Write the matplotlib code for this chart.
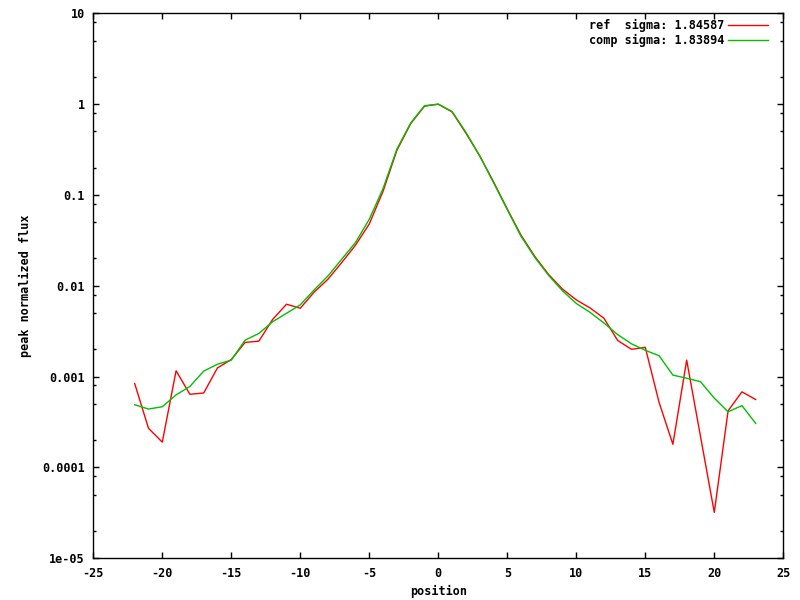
import numpy as np
import matplotlib
matplotlib.use('Agg')
import matplotlib.pyplot as plt
from matplotlib.ticker import LogLocator, FuncFormatter, MultipleLocator, NullFormatter

# profile positions
position = np.arange(-22, 24)

# reference profile (peak normalised)
ref_flux = [8.4e-4, 2.7e-4, 1.9e-4, 1.16e-3, 6.4e-4, 6.6e-4, 1.25e-3, 1.54e-3,
            2.38e-3, 2.46e-3, 4.27e-3, 6.27e-3, 5.66e-3, 8.5e-3, 0.0118, 0.018,
            0.028, 0.048, 0.11, 0.31, 0.61, 0.95, 1.0, 0.82, 0.48, 0.27, 0.14,
            0.07, 0.036, 0.021, 0.0133, 0.0092, 0.0070, 0.0057, 0.0044, 0.0025,
            0.0020, 0.0021, 5.2e-4, 1.8e-4, 1.52e-3, 2.2e-4, 3.2e-5, 4.2e-4,
            6.8e-4, 5.6e-4]

# computed profile
comp_flux = [4.9e-4, 4.4e-4, 4.66e-4, 6.3e-4, 7.8e-4, 1.15e-3, 1.37e-3, 1.52e-3,
             2.52e-3, 2.99e-3, 4.03e-3, 4.98e-3, 6.17e-3, 9.0e-3, 0.0128, 0.0196,
             0.030, 0.054, 0.118, 0.32, 0.62, 0.96, 1.0, 0.83, 0.49, 0.27, 0.137,
             0.069, 0.035, 0.0205, 0.0130, 0.0088, 0.0064, 0.0051, 0.0039, 0.0029,
             0.0023, 0.00195, 0.0017, 1.04e-3, 9.6e-4, 8.8e-4, 5.8e-4, 4.1e-4,
             4.8e-4, 3.06e-4]

ref_label = 'ref  sigma: 1.84587'
comp_label = 'comp sigma: 1.83894'

FONT = dict(family='DejaVu Sans Mono', weight='bold', size=8.5)
plt.rcParams['font.family'] = 'DejaVu Sans Mono'
plt.rcParams['font.weight'] = 'bold'
plt.rcParams['font.size'] = 8.5

fig = plt.figure(figsize=(8, 6), dpi=100)
ax = fig.add_axes([0.1166, 0.0695, 0.8625, 0.9083])

ax.plot(position, ref_flux, color='#ff0000', lw=1.0, label=ref_label)
ax.plot(position, comp_flux, color='#00c000', lw=1.0, label=comp_label)

ax.set_yscale('log')
ax.set_xlim(-25, 25)
ax.set_ylim(1e-5, 10)

ax.xaxis.set_major_locator(MultipleLocator(5))
ax.xaxis.set_major_formatter(FuncFormatter(lambda v, p: '%g' % v))
ax.yaxis.set_major_locator(LogLocator(base=10, numticks=20))
ax.yaxis.set_minor_locator(LogLocator(base=10, subs=[2, 5, 8], numticks=20))
ax.yaxis.set_major_formatter(FuncFormatter(lambda v, p: '%g' % v))
ax.yaxis.set_minor_formatter(NullFormatter())

ax.tick_params(which='both', direction='in', top=True, right=True,
               color='black', width=1.0)
ax.tick_params(which='major', length=4.3, pad=6, labelsize=8.5)
ax.tick_params(which='minor', length=2.2)
for s in ax.spines.values():
    s.set_linewidth(1.0)

ax.set_xlabel('position', fontdict=FONT, labelpad=4)
ax.set_ylabel('peak normalized flux', fontdict=FONT, labelpad=7)

ax.legend(loc='upper right', bbox_to_anchor=(0.978, 0.99), frameon=False,
          markerfirst=False, handlelength=3.4, handletextpad=0.3,
          borderaxespad=0, borderpad=0, labelspacing=0.2,
          prop={'family': 'DejaVu Sans Mono', 'weight': 'bold', 'size': 8.5})

fig.savefig('out.png', dpi=100, facecolor='white')
